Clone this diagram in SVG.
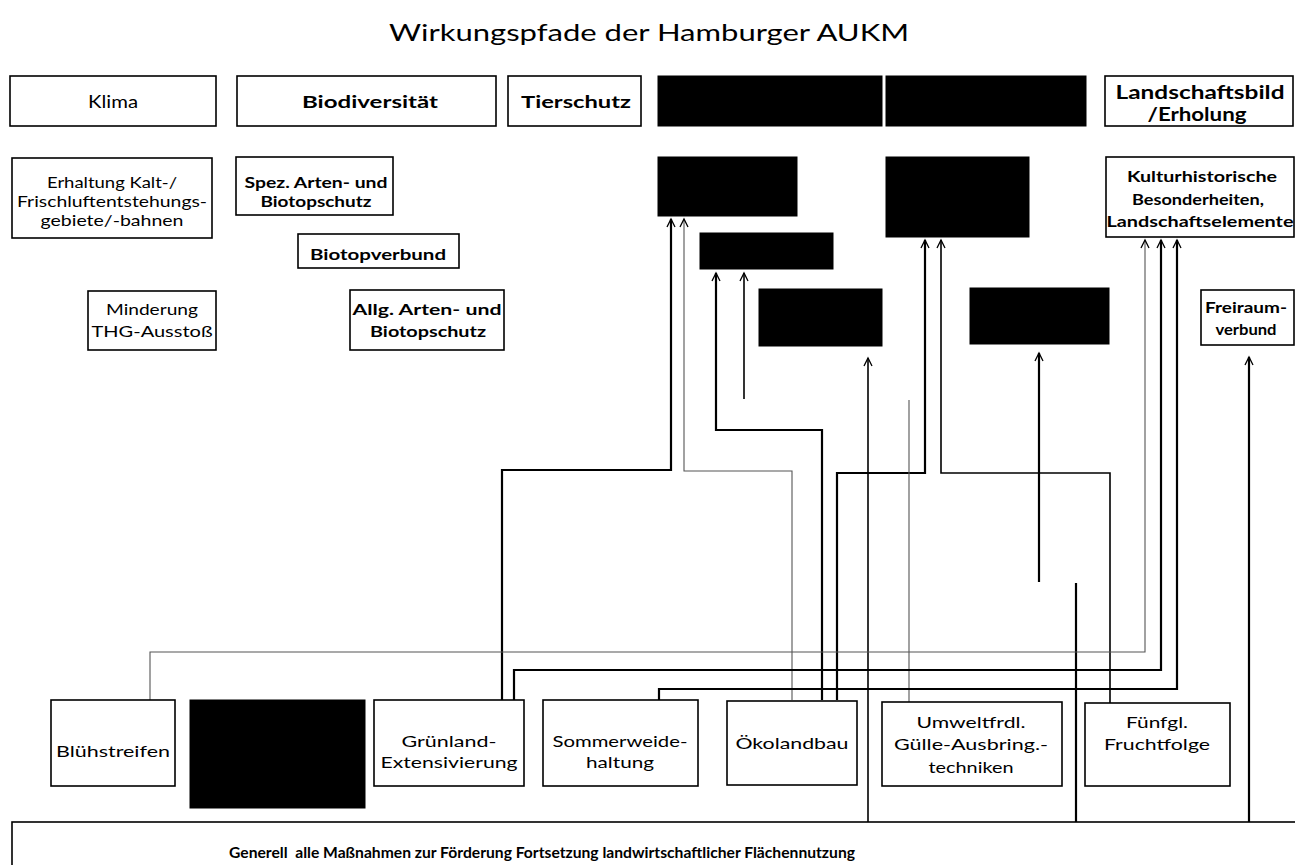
<svg xmlns="http://www.w3.org/2000/svg" width="1295" height="865" viewBox="0 0 1295 865">
<style>
.box{fill:#fff;stroke:#000;stroke-width:1.6}
.blk{fill:#000;stroke:#000;stroke-width:1}
.t{font-family:Lato,'Liberation Sans',sans-serif;font-size:15px;fill:#000;text-anchor:middle}
.b{font-weight:700}
.c{fill:none;stroke:#000;stroke-linejoin:miter}
.k{stroke-width:2.2}
.m{stroke-width:1.6}
.n{stroke-width:1.1;stroke:#555}
</style>
<defs>
<marker id="ar" markerUnits="userSpaceOnUse" markerWidth="12" markerHeight="12" viewBox="-10 -6 12 12" refX="0" refY="0" orient="auto" overflow="visible">
<path d="M-8,-4 L0,0 L-8,4" fill="none" stroke="#000" stroke-width="1.3"/>
</marker>
</defs>
<rect width="1295" height="865" fill="#fff"/>
<text class="t" x="649" y="41" style="font-size:24px" textLength="520" lengthAdjust="spacingAndGlyphs">Wirkungspfade der Hamburger AUKM</text>

<g id="connectors">
<path class="c k" d="M502,700 V470 H671 V219" marker-end="url(#ar)"/>
<path class="c n" d="M792,700 V471 H684 V219" marker-end="url(#ar)"/>
<path class="c k" d="M822,700 V430 H716 V273" marker-end="url(#ar)"/>
<path class="c m" d="M744,399 V273" marker-end="url(#ar)"/>
<path class="c m" d="M868,822 V358" marker-end="url(#ar)"/>
<path class="c k" d="M837,700 V473 H925 V240" marker-end="url(#ar)"/>
<path class="c m" d="M1110,703 V473 H941 V240" marker-end="url(#ar)"/>
<path class="c n" d="M909,702 V400"/>
<path class="c k" d="M1039,582 V353" marker-end="url(#ar)"/>
<path class="c k" d="M1076,822 V583"/>
<path class="c n" d="M150,700 V652 H1145 V240" marker-end="url(#ar)"/>
<path class="c k" d="M514,700 V670 H1161 V240" marker-end="url(#ar)"/>
<path class="c k" d="M659,700 V689 H1177 V240" marker-end="url(#ar)"/>
<path class="c k" d="M1249,822 V357" marker-end="url(#ar)"/>
</g>

<g id="n-klima"><rect class="box" x="10" y="76" width="206" height="50"/><text class="t" x="113" y="108" style="font-size:17px" textLength="50" lengthAdjust="spacingAndGlyphs">Klima</text></g>
<g id="n-biodiv"><rect class="box" x="237" y="76" width="259" height="50"/><text class="t b" x="370" y="108" style="font-size:17px" textLength="136" lengthAdjust="spacingAndGlyphs">Biodiversität</text></g>
<g id="n-tierschutz"><rect class="box" x="508" y="76" width="133" height="50"/><text class="t b" x="576" y="108" style="font-size:17px" textLength="110" lengthAdjust="spacingAndGlyphs">Tierschutz</text></g>
<g id="n-black1"><rect class="blk" x="658" y="76" width="224" height="50"/></g>
<g id="n-black2"><rect class="blk" x="886" y="76" width="200" height="50"/></g>
<g id="n-landschaft"><rect class="box" x="1105" y="76" width="188" height="50"/><text class="t b" x="1200" y="99" style="font-size:18px" textLength="169" lengthAdjust="spacingAndGlyphs">Landschaftsbild</text><text class="t b" x="1197" y="121" style="font-size:18px" textLength="99" lengthAdjust="spacingAndGlyphs">/Erholung</text></g>

<g id="n-erhaltung"><rect class="box" x="12" y="158" width="200" height="80"/><text class="t" x="112" y="188" textLength="130" lengthAdjust="spacingAndGlyphs">Erhaltung Kalt-/</text><text class="t" x="112" y="207" textLength="190" lengthAdjust="spacingAndGlyphs">Frischluftentstehungs-</text><text class="t" x="112" y="226" textLength="143" lengthAdjust="spacingAndGlyphs">gebiete/-bahnen</text></g>
<g id="n-spez"><rect class="box" x="236" y="157" width="157" height="58"/><text class="t b" x="316" y="188" textLength="143" lengthAdjust="spacingAndGlyphs">Spez. Arten- und</text><text class="t b" x="316" y="207" textLength="111" lengthAdjust="spacingAndGlyphs">Biotopschutz</text></g>
<g id="n-biotopverbund"><rect class="box" x="298" y="234" width="161" height="34"/><text class="t b" x="378" y="260" textLength="136" lengthAdjust="spacingAndGlyphs">Biotopverbund</text></g>
<g id="n-minderung"><rect class="box" x="88" y="291" width="128" height="59"/><text class="t" x="152" y="315" textLength="92" lengthAdjust="spacingAndGlyphs">Minderung</text><text class="t" x="152" y="337" textLength="121" lengthAdjust="spacingAndGlyphs">THG-Ausstoß</text></g>
<g id="n-allg"><rect class="box" x="350" y="290" width="154" height="60"/><text class="t b" x="427" y="315" textLength="149" lengthAdjust="spacingAndGlyphs">Allg. Arten- und</text><text class="t b" x="428" y="337" textLength="116" lengthAdjust="spacingAndGlyphs">Biotopschutz</text></g>

<g id="n-blackA"><rect class="blk" x="658" y="157" width="139" height="59"/></g>
<g id="n-blackB"><rect class="blk" x="700" y="233" width="133" height="36"/></g>
<g id="n-blackC"><rect class="blk" x="759" y="289" width="123" height="57"/></g>
<g id="n-blackD"><rect class="blk" x="886" y="157" width="143" height="80"/></g>
<g id="n-blackE"><rect class="blk" x="970" y="288" width="139" height="56"/></g>
<g id="n-kultur"><rect class="box" x="1106" y="157" width="188" height="80"/><text class="t b" x="1202" y="182" textLength="150" lengthAdjust="spacingAndGlyphs">Kulturhistorische</text><text class="t b" x="1198" y="205" textLength="132" lengthAdjust="spacingAndGlyphs">Besonderheiten,</text><text class="t b" x="1200" y="227" textLength="187" lengthAdjust="spacingAndGlyphs">Landschaftselemente</text></g>
<g id="n-freiraum"><rect class="box" x="1201" y="290" width="93" height="55"/><text class="t b" x="1246" y="313" textLength="82" lengthAdjust="spacingAndGlyphs">Freiraum-</text><text class="t b" x="1246" y="335" textLength="61" lengthAdjust="spacingAndGlyphs">verbund</text></g>

<g id="n-bluehstreifen"><rect class="box" x="51" y="700" width="124" height="86"/><text class="t" x="113" y="757" style="font-size:16px" textLength="114" lengthAdjust="spacingAndGlyphs">Blühstreifen</text></g>
<g id="n-blackbottom"><rect class="blk" x="190" y="700" width="175" height="108"/></g>
<g id="n-gruenland"><rect class="box" x="374" y="700" width="150" height="86"/><text class="t" x="449" y="747" style="font-size:16px" textLength="95" lengthAdjust="spacingAndGlyphs">Grünland-</text><text class="t" x="449" y="768" style="font-size:16px" textLength="137" lengthAdjust="spacingAndGlyphs">Extensivierung</text></g>
<g id="n-sommerweide"><rect class="box" x="543" y="700" width="155" height="86"/><text class="t" x="620" y="747" style="font-size:16px" textLength="135" lengthAdjust="spacingAndGlyphs">Sommerweide-</text><text class="t" x="620" y="768" style="font-size:16px" textLength="68" lengthAdjust="spacingAndGlyphs">haltung</text></g>
<g id="n-oekolandbau"><rect class="box" x="727" y="701" width="130" height="84"/><text class="t" x="792" y="749" style="font-size:16px" textLength="113" lengthAdjust="spacingAndGlyphs">Ökolandbau</text></g>
<g id="n-guelle"><rect class="box" x="882" y="702" width="180" height="84"/><text class="t" x="971" y="728" style="font-size:16px" textLength="109" lengthAdjust="spacingAndGlyphs">Umweltfrdl.</text><text class="t" x="971" y="750" style="font-size:16px" textLength="154" lengthAdjust="spacingAndGlyphs">Gülle-Ausbring.-</text><text class="t" x="971" y="773" style="font-size:16px" textLength="85" lengthAdjust="spacingAndGlyphs">techniken</text></g>
<g id="n-fruchtfolge"><rect class="box" x="1085" y="703" width="145" height="83"/><text class="t" x="1157" y="728" style="font-size:16px" textLength="62" lengthAdjust="spacingAndGlyphs">Fünfgl.</text><text class="t" x="1157" y="750" style="font-size:16px" textLength="106" lengthAdjust="spacingAndGlyphs">Fruchtfolge</text></g>

<g id="n-generell"><rect class="box" x="12" y="822" width="1295" height="60"/><text class="t b" x="542" y="858" style="white-space:pre" textLength="626" lengthAdjust="spacingAndGlyphs">Generell  alle Maßnahmen zur Förderung Fortsetzung landwirtschaftlicher Flächennutzung</text></g>
</svg>
